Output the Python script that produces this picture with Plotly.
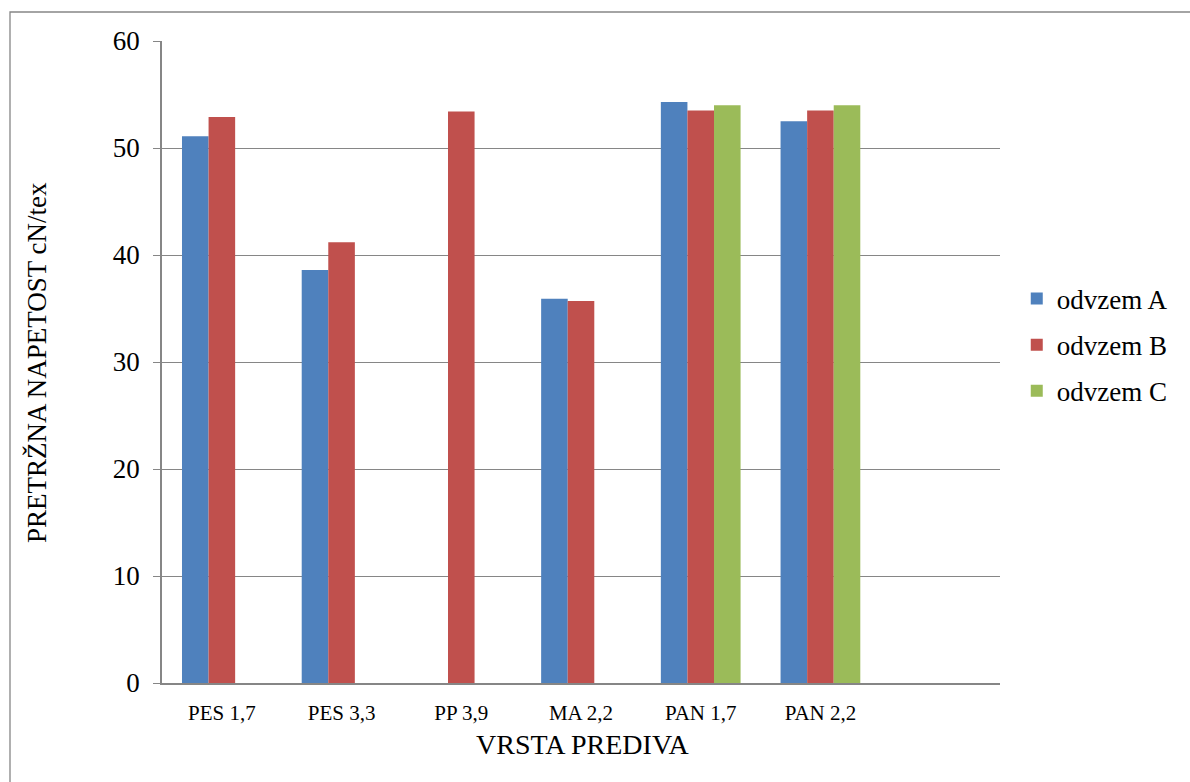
import plotly.graph_objects as go

# Yarn types (last slot on the axis is left empty)
categories = ["PES 1,7", "PES 3,3", "PP 3,9", "MA 2,2", "PAN 1,7", "PAN 2,2", " "]

# Breaking tenacity in cN/tex for each draw-off setting
odvzem_a = [51.1, 38.6, None, 35.9, 54.3, 52.5]
odvzem_b = [52.9, 41.2, 53.4, 35.7, 53.5, 53.5]
odvzem_c = [None, None, None, None, 54.0, 54.0]

series_names = ["odvzem A", "odvzem B", "odvzem C"]
series_values = [odvzem_a, odvzem_b, odvzem_c]
series_colors = ["#4F81BD", "#C0504D", "#9BBB59"]

y_ticks = [0, 10, 20, 30, 40, 50, 60]

FONT = "Liberation Serif"
GRID = "#868686"

fig = go.Figure()
for name, vals, col in zip(series_names, series_values, series_colors):
    fig.add_trace(go.Bar(
        x=categories[:len(vals)],
        y=vals,
        name=name,
        legendgroup=name,
        marker=dict(color=col, line=dict(width=0)),
    ))

fig.update_layout(
    width=1190,
    height=782,
    margin=dict(l=162, r=190, t=41, b=99),
    paper_bgcolor="white",
    plot_bgcolor="white",
    barmode="group",
    bargap=0.334,
    bargroupgap=0,
    font=dict(family=FONT, color="black"),
    showlegend=True,
    legend=dict(
        x=1.02, y=(683 - 345) / 642, xanchor="left", yanchor="middle",
        font=dict(size=27, family=FONT),
        traceorder="grouped",
        tracegroupgap=8,
        itemwidth=30,
        bgcolor="rgba(0,0,0,0)",
    ),
    xaxis=dict(
        type="category",
        categoryorder="array",
        categoryarray=categories,
        range=[-0.5, len(categories) - 0.5],
        showline=True, linecolor=GRID, linewidth=1.5,
        showgrid=False, ticks="",
        tickfont=dict(size=21, family=FONT),
        ticklabelstandoff=10,
    ),
    yaxis=dict(
        range=[0, 60],
        tickvals=y_ticks,
        showline=True, linecolor=GRID, linewidth=1.5,
        showgrid=True, gridcolor=GRID, gridwidth=1.3,
        ticks="outside", ticklen=7, tickcolor=GRID, tickwidth=1.3,
        tickfont=dict(size=27, family=FONT),
        ticklabelstandoff=8,
        zeroline=False,
    ),
    annotations=[
        dict(text="PRETRŽNA NAPETOST cN/tex", xref="paper", yref="paper",
             x=(37 - 162) / 838, y=(683 - 363) / 642, textangle=-90,
             showarrow=False, font=dict(size=27, family=FONT),
             xanchor="center", yanchor="middle"),
        dict(text="VRSTA PREDIVA", xref="paper", yref="paper",
             x=(583 - 162) / 838, y=(683 - 745) / 642,
             showarrow=False, font=dict(size=28, family=FONT),
             xanchor="center", yanchor="middle"),
    ],
    shapes=[
        dict(type="rect", xref="paper", yref="paper",
             x0=(10 - 162) / 838, x1=(1200 - 162) / 838,
             y0=(683 - 800) / 642, y1=(683 - 12) / 642,
             line=dict(color=GRID, width=1.3), layer="below"),
    ],
)

fig.write_html("out.html")
